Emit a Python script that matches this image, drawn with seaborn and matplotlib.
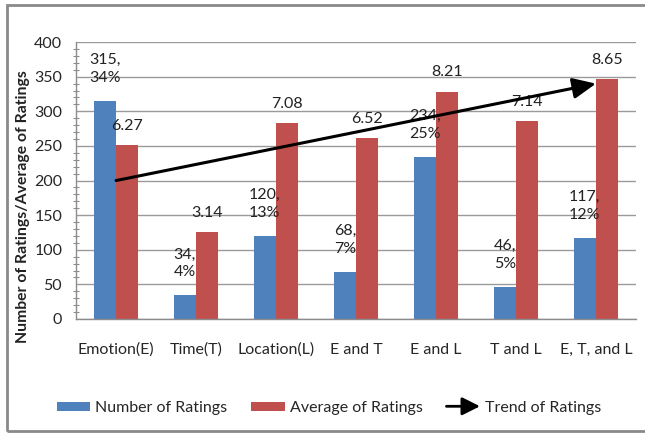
import matplotlib
matplotlib.use("Agg")
import matplotlib.pyplot as plt
import seaborn as sns
import pandas as pd
from matplotlib.patches import Patch, FancyArrowPatch, Rectangle
from matplotlib.legend_handler import HandlerBase
from matplotlib.ticker import MultipleLocator

categories = ["Emotion(E)", "Time(T)", "Location(L)", "E and T", "E and L", "T and L", "E, T, and L"]
num_ratings = [315, 34, 120, 68, 234, 46, 117]
pct_ratings = [34, 4, 13, 7, 25, 5, 12]
avg_ratings = [6.27, 3.14, 7.08, 6.52, 8.21, 7.14, 8.65]
avg_scale = 40  # averages are drawn on the count axis, scaled by 40
trend_values = [200, 340]  # trend arrow from the first to the last category

blue = "#4F81BD"
red = "#C0504D"

sns.set_theme(style="white")
plt.rcParams["font.family"] = ["Lato", "DejaVu Sans"]

df = pd.DataFrame({
    "category": categories * 2,
    "value": num_ratings + [a * avg_scale for a in avg_ratings],
    "series": ["Number of Ratings"] * len(categories) + ["Average of Ratings"] * len(categories),
})

fig = plt.figure(figsize=(6.45, 4.34), dpi=100)
ax = fig.add_axes([0.118, 0.265, 0.868, 0.638])

sns.barplot(data=df, x="category", y="value", hue="series",
            palette=[blue, red], saturation=1, width=0.56, gap=0, ax=ax,
            legend=False, edgecolor="none", linewidth=0)

ax.set_ylim(0, 400)
ax.set_xlim(-0.5, len(categories) - 0.5)
ax.yaxis.set_major_locator(MultipleLocator(50))
ax.yaxis.set_minor_locator(MultipleLocator(10))
ax.grid(axis="y", color="#9a9a9a", linewidth=1.0)
ax.set_axisbelow(True)

for side in ["top", "right"]:
    ax.spines[side].set_visible(False)
for side in ["left", "bottom"]:
    ax.spines[side].set_color("#8c8c8c")
    ax.spines[side].set_linewidth(1.0)

# category labels sit between boundary ticks
ax.set_xticks([i - 0.5 for i in range(len(categories) + 1)], minor=False)
ax.set_xticklabels([])
ax.set_xticks(range(len(categories)), minor=True)
ax.set_xticklabels(categories, minor=True, fontsize=11.5)
ax.tick_params(axis="x", which="major", direction="out", length=8, color="#8c8c8c", width=1)
ax.tick_params(axis="x", which="minor", length=0, pad=17)
ax.tick_params(axis="y", which="major", direction="out", length=4, color="#8c8c8c", labelsize=11.5, pad=6)
ax.tick_params(axis="y", which="minor", direction="inout", length=4, color="#8c8c8c", width=0.8, left=True)
ax.set_xlabel("")
ax.set_ylabel("")
fig.text(0.036, 0.523, "Number of Ratings/Average of Ratings", rotation=90,
         ha="center", va="center", fontsize=11.3, fontweight="bold", color="#222222")

# value labels
bars_num = ax.containers[0]
bars_avg = ax.containers[1]
for bar, n, p in zip(bars_num, num_ratings, pct_ratings):
    x = bar.get_x() + bar.get_width() / 2
    ax.annotate(f"{n},\n{p}%", (x, bar.get_height()), xytext=(0, 23),
                textcoords="offset points", ha="center", va="center",
                fontsize=11.5, color="#222222", linespacing=1.35)
for bar, a in zip(bars_avg, avg_ratings):
    x = bar.get_x() + bar.get_width() / 2
    ax.annotate(f"{a:.2f}", (x, bar.get_height()), xytext=(0, 14),
                textcoords="offset points", ha="center", va="center",
                fontsize=11.5, color="#222222")

# trend arrow
ax.annotate("", xy=(len(categories) - 1, trend_values[1]), xytext=(0, trend_values[0]),
            arrowprops=dict(arrowstyle="-|>,head_length=1.0,head_width=0.45",
                            color="black", lw=2.2, shrinkA=0, shrinkB=0,
                            mutation_scale=14))


class ArrowHandler(HandlerBase):
    def create_artists(self, legend, orig_handle, xdescent, ydescent,
                       width, height, fontsize, trans):
        y = height / 2 - ydescent
        arr = FancyArrowPatch((-xdescent, y), (width - xdescent, y),
                              arrowstyle="-|>,head_length=0.9,head_width=0.45",
                              mutation_scale=12, color="black", lw=2,
                              shrinkA=0, shrinkB=0, transform=trans)
        return [arr]


trend_handle = Rectangle((0, 0), 1, 1)
handles = [Patch(facecolor=blue, edgecolor="none"),
           Patch(facecolor=red, edgecolor="none"),
           trend_handle]
labels = ["Number of Ratings", "Average of Ratings", "Trend of Ratings"]
fig.legend(handles, labels, loc="center", bbox_to_anchor=(0.51, 0.06), ncol=3,
           frameon=False, fontsize=11.5, handlelength=2.1, handleheight=0.5,
           columnspacing=1.5, handletextpad=0.3,
           handler_map={trend_handle: ArrowHandler()})

# outer frame
fig.patches.append(Rectangle((0.011, 0.006), 1.2, 0.983, transform=fig.transFigure,
                             fill=False, edgecolor="#8a8a8a", linewidth=2))

fig.savefig("out.png", dpi=100)
